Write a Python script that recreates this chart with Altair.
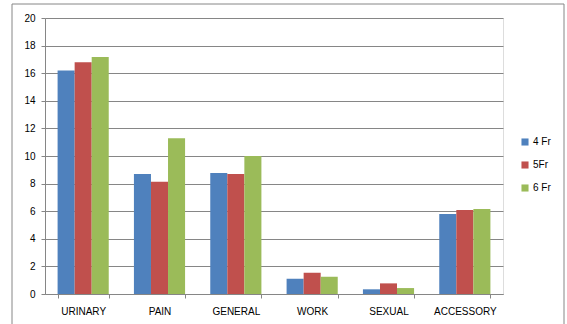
import altair as alt
import pandas as pd

categories = ["URINARY", "PAIN", "GENERAL", "WORK", "SEXUAL", "ACCESSORY"]
series = ["4 Fr", "5Fr", "6 Fr"]
vals_4fr = [16.2, 8.7, 8.77, 1.11, 0.34, 5.8]
vals_5fr = [16.8, 8.14, 8.7, 1.54, 0.77, 6.09]
vals_6fr = [17.17, 11.28, 10.0, 1.25, 0.43, 6.16]
colors = ["#4F81BD", "#C0504D", "#9BBB59"]

rows = []
for s, vals in zip(series, [vals_4fr, vals_5fr, vals_6fr]):
    for c, v in zip(categories, vals):
        rows.append({"category": c, "series": s, "value": v})
df = pd.DataFrame(rows)

FONT = "Liberation Sans"
W, H = 458, 276

bars = alt.Chart(df).mark_bar().encode(
    x=alt.X("category:N", sort=categories,
            scale=alt.Scale(paddingInner=0.33, paddingOuter=0.165),
            axis=alt.Axis(title=None, labelAngle=0, tickBand="extent",
                          domainColor="#868686", tickColor="#868686",
                          tickSize=4, labelPadding=8, labelFontSize=10,
                          labelColor="#000000", labelFont=FONT, grid=False)),
    xOffset=alt.XOffset("series:N", sort=series),
    y=alt.Y("value:Q", scale=alt.Scale(domain=[0, 20]),
            axis=alt.Axis(title=None, values=list(range(0, 21, 2)),
                          domainColor="#868686", tickColor="#868686",
                          tickSize=4, labelPadding=6, labelFontSize=10,
                          labelColor="#000000", labelFont=FONT,
                          gridColor="#868686", gridWidth=1)),
    color=alt.Color("series:N", sort=series,
                    scale=alt.Scale(domain=series, range=colors),
                    legend=alt.Legend(title=None, orient="none",
                                      legendX=475, legendY=119,
                                      symbolType="square", symbolSize=50,
                                      symbolStrokeWidth=0,
                                      labelFontSize=10, labelFont=FONT,
                                      labelColor="#000000",
                                      rowPadding=13, labelOffset=3)),
)

border = alt.Chart(pd.DataFrame({"a": [0]})).mark_rect(
    fill=None, stroke="#868686", strokeWidth=1, clip=False
).encode(
    x=alt.value(-33), x2=alt.value(519),
    y=alt.value(-14), y2=alt.value(320),
)

chart = alt.layer(border, bars).properties(
    width=W, height=H,
    autosize=alt.AutoSizeParams(type="none"),
    padding={"left": 45, "top": 18, "right": 64, "bottom": 30},
).configure_view(stroke=None).configure(background="#FFFFFF")

chart.save("out.html", embed_options={"renderer": "svg", "actions": False})
